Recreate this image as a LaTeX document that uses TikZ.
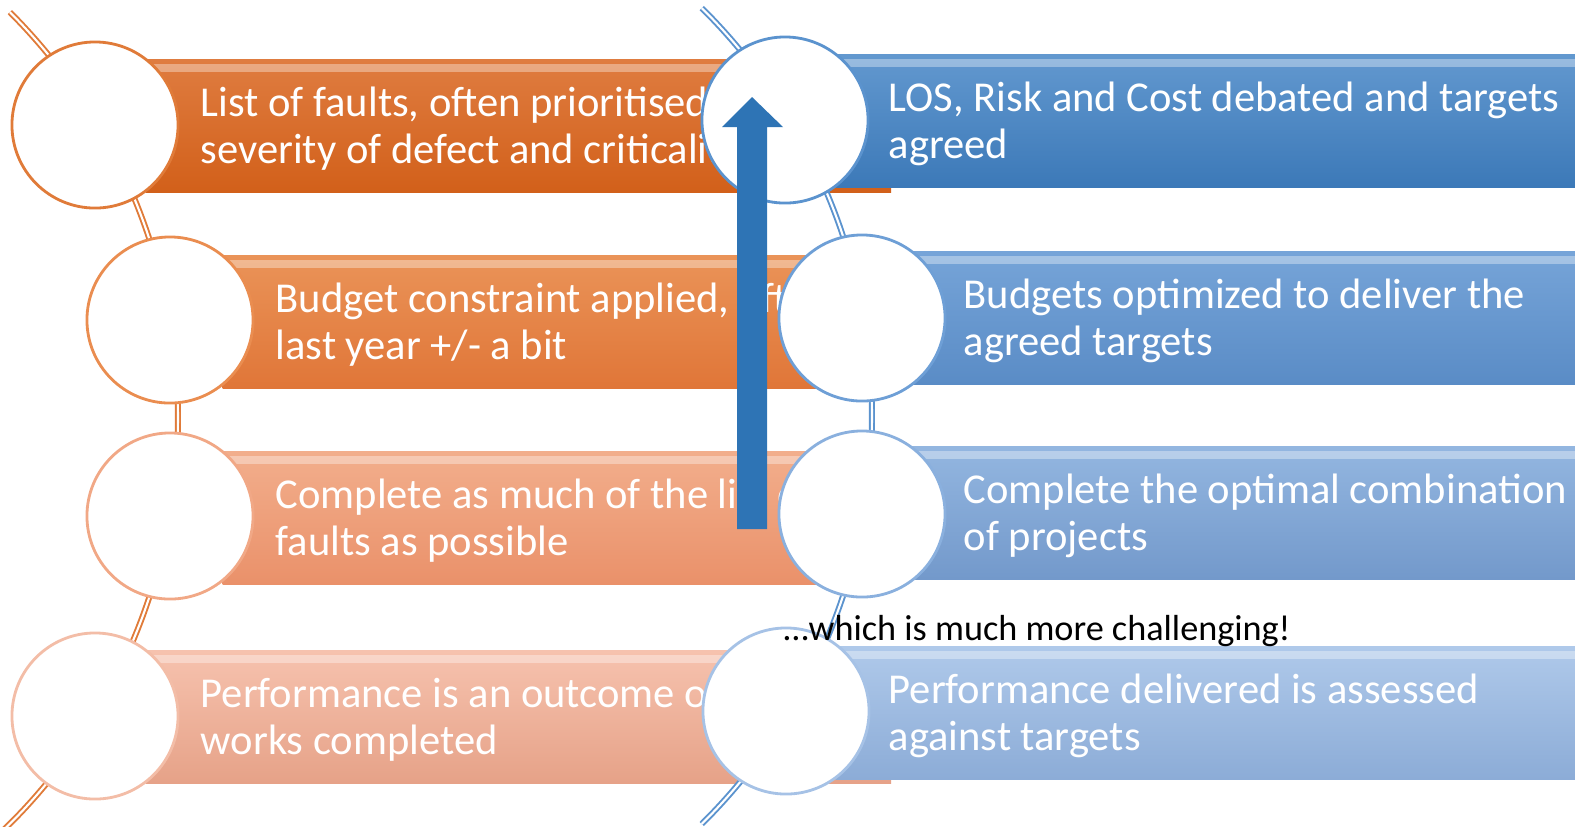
\documentclass[tikz,border=0pt]{standalone}
\usepackage{fontspec}
\setmainfont{Carlito}
\usetikzlibrary{positioning}

\definecolor{orA}{HTML}{E07B39}
\definecolor{orB}{HTML}{EA8D50}
\definecolor{orC}{HTML}{F1A886}
\definecolor{orD}{HTML}{F3BDA7}
\definecolor{blA}{HTML}{5B93CE}
\definecolor{blB}{HTML}{6E9FD6}
\definecolor{blC}{HTML}{8AB0DE}
\definecolor{blD}{HTML}{A6C2E6}
\definecolor{upblue}{HTML}{2E74B5}

\begin{document}
\begin{tikzpicture}[x=0.01cm,y=-0.01cm]
    \tikzset{
    ring/.style={circle,minimum size=1.66cm,inner sep=0pt,fill=white,draw=#1,line width=0.8pt},
    bar/.style={rectangle,anchor=west,minimum height=1.32cm,inner sep=0pt,
        path picture={\fill[white,opacity=0.35] ([yshift=-1.1pt]path picture bounding box.north west) rectangle ([yshift=-3.4pt]path picture bounding box.north east);}},
    lbl/.style={anchor=west,align=left,inner sep=0pt,text=white,font=\fontsize{12.1}{13.4}\selectfont},
    spine/.style={draw=#1,double=white,double distance=0.6pt,line width=0.55pt},
    }
    \useasboundingbox (0,0) rectangle (1575,826);

    \draw[spine=orA] plot[domain=-45:46,samples=60,smooth] ({-396+574*cos(\x)},{418+574*sin(\x)});

    \node[bar,minimum width=7.45cm,top color={rgb,255:red,223;green,124;blue,64},bottom color={rgb,255:red,210;green,96;blue,26}] (ob1) at (145,126) {};
    \node[bar,minimum width=6.2cm,top color={rgb,255:red,234;green,147;blue,88},bottom color={rgb,255:red,224;green,118;blue,56}] (ob2) at (222,322) {};
    \node[bar,minimum width=6.2cm,top color={rgb,255:red,242;green,174;blue,140},bottom color={rgb,255:red,234;green,145;blue,106}] (ob3) at (222,518) {};
    \node[bar,minimum width=7.45cm,top color={rgb,255:red,246;green,194;blue,174},bottom color={rgb,255:red,230;green,162;blue,136}] (ob4) at (145,717) {};

    \node[lbl] (ot1) at (200,129) {List of faults, often prioritised on\\severity of defect and criticality};
    \node[lbl] (ot2) at (275,325) {Budget constraint applied, often\\last year +/- a bit};
    \node[lbl] (ot3) at (275,521) {Complete as much of the list of\\faults as possible};
    \node[lbl] (ot4) at (200,720) {Performance is an outcome of\\works completed};

    \node[ring=orA] (oc1) at (95,125) {};
    \node[ring=orB] (oc2) at (170,320) {};
    \node[ring=orC] (oc3) at (170,516) {};
    \node[ring=orD] (oc4) at (95,716) {};

    \draw[spine=blA] plot[domain=-45.3:45.3,samples=60,smooth] ({298+574*cos(\x)},{416+574*sin(\x)});

    \node[bar,minimum width=7.4cm,top color={rgb,255:red,98;green,152;blue,207},bottom color={rgb,255:red,60;green,121;blue,184}] (bb1) at (835,121) {};
    \node[bar,minimum width=6.65cm,top color={rgb,255:red,118;green,164;blue,216},bottom color={rgb,255:red,90;green,140;blue,198}] (bb2) at (910,318) {};
    \node[bar,minimum width=6.65cm,top color={rgb,255:red,147;green,182;blue,224},bottom color={rgb,255:red,115;green,153;blue,203}] (bb3) at (910,513) {};
    \node[bar,minimum width=7.4cm,top color={rgb,255:red,175;green,201;blue,234},bottom color={rgb,255:red,140;green,172;blue,215}] (bb4) at (835,713) {};

    \node[lbl] (bt1) at (888,124) {LOS, Risk and Cost debated and targets\\agreed};
    \node[lbl] (bt2) at (963,321) {Budgets optimized to deliver the\\agreed targets};
    \node[lbl] (bt3) at (963,516) {Complete the optimal combination\\of projects};
    \node[lbl] (bt4) at (888,716) {Performance delivered is assessed\\against targets};

    \node[ring=blA] (bc1) at (785,120) {};
    \node[ring=blB] (bc2) at (862,318) {};
    \node[ring=blC] (bc3) at (862,514) {};
    \node[ring=blD] (bc4) at (786,711) {};

    \fill[upblue] (737,529) -- (737,127) -- (722,127) -- (752,97) -- (783,127) -- (767,127) -- (767,529) -- cycle;

    \node[anchor=base west,inner sep=0pt,font=\fontsize{10.3}{12}\selectfont] (note) at (783,640) {…which is much more challenging!};
\end{tikzpicture}
\end{document}
